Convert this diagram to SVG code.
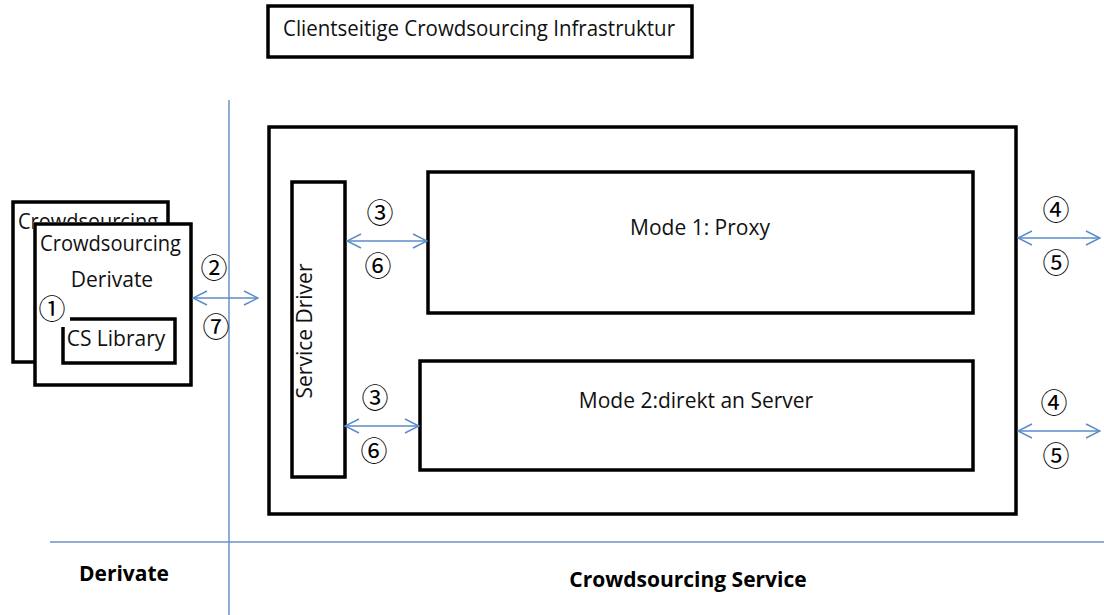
<svg xmlns="http://www.w3.org/2000/svg" width="1104" height="615" viewBox="0 0 1104 615">
  <style>
    .box { fill: #fff; stroke: #000; stroke-width: 3.5; }
    .lbl { font-family: "Open Sans", "Liberation Sans", sans-serif; font-size: 21px; fill: #111; }
    .bold { font-family: "Open Sans", "Liberation Sans", sans-serif; font-size: 21px; font-weight: bold; fill: #000; }
    .num { font-family: "Noto Sans CJK JP", "DejaVu Sans", sans-serif; font-size: 27px; fill: #000; text-anchor: middle; }
    .axis { stroke: #6a93c8; stroke-width: 1.5; fill: none; }
    .conn { stroke: #5b8cc8; stroke-width: 1.5; fill: none; marker-start: url(#head); marker-end: url(#head); }
  </style>
  <defs>
    <marker id="head" viewBox="0 0 16 16" refX="15" refY="8" markerWidth="16" markerHeight="16" markerUnits="userSpaceOnUse" orient="auto-start-reverse">
      <path d="M1,1 L15,8 L1,15" fill="none" stroke="#5b8cc8" stroke-width="1.5"/>
    </marker>
    <clipPath id="back-visible">
      <rect x="0" y="190" width="33" height="180"/>
      <rect x="0" y="190" width="200" height="32"/>
    </clipPath>
  </defs>

  <rect width="1104" height="615" fill="#fff"/>

  <!-- partition lines -->
  <g id="partition">
    <line class="axis" x1="229" y1="100" x2="229" y2="615"/>
    <line class="axis" x1="50" y1="542" x2="1104" y2="542"/>
  </g>

  <g id="title">
    <rect class="box" x="268" y="6" width="424" height="51"/>
    <text class="lbl" x="479" y="36" text-anchor="middle" font-size="20" textLength="392" lengthAdjust="spacingAndGlyphs">Clientseitige Crowdsourcing Infrastruktur</text>
  </g>

  <g id="derivate-back">
    <rect class="box" x="13" y="202" width="155" height="160"/>
    <text class="lbl" x="18" y="229" textLength="140" lengthAdjust="spacingAndGlyphs" clip-path="url(#back-visible)">Crowdsourcing</text>
  </g>

  <g id="derivate-front">
    <rect class="box" x="35" y="224" width="156" height="161"/>
    <text class="lbl" x="40" y="251" textLength="141" lengthAdjust="spacingAndGlyphs">Crowdsourcing</text>
    <text class="lbl" x="112" y="287" text-anchor="middle" font-size="20">Derivate</text>
    <text class="num" x="52" y="319">①</text>
  </g>

  <g id="cs-library">
    <path d="M70,319 L175,319 L175,363 L63,363 L63,327" fill="none" stroke="#000" stroke-width="3.5"/>
    <text class="lbl" x="116" y="346" text-anchor="middle" font-size="20">CS Library</text>
  </g>

  <g id="cs-service">
    <rect class="box" x="269" y="127" width="747" height="387"/>
  </g>

  <g id="service-driver">
    <rect class="box" x="292" y="182" width="53" height="295"/>
    <text class="lbl" transform="translate(312,331) rotate(-90)" text-anchor="middle">Service Driver</text>
  </g>

  <g id="mode1">
    <rect class="box" x="428" y="172" width="545" height="141"/>
    <text class="lbl" x="700" y="235" text-anchor="middle">Mode 1: Proxy</text>
  </g>

  <g id="mode2">
    <rect class="box" x="420" y="361" width="553" height="109"/>
    <text class="lbl" x="696" y="408" text-anchor="middle">Mode 2:direkt an Server</text>
  </g>

  <g id="connectors">
    <line class="conn" x1="193" y1="298" x2="258" y2="298"/>
    <line class="conn" x1="347" y1="241" x2="427" y2="241"/>
    <line class="conn" x1="345" y1="426" x2="419" y2="426"/>
    <line class="conn" x1="1018" y1="238" x2="1100" y2="238"/>
    <line class="conn" x1="1018" y1="431" x2="1100" y2="431"/>
  </g>

  <g id="step-numbers">
    <text class="num" x="214" y="278">②</text>
    <text class="num" x="216" y="337">⑦</text>
    <text class="num" x="380" y="223">③</text>
    <text class="num" x="378" y="276">⑥</text>
    <text class="num" x="375" y="408">③</text>
    <text class="num" x="374" y="461">⑥</text>
    <text class="num" x="1056" y="220">④</text>
    <text class="num" x="1056" y="273">⑤</text>
    <text class="num" x="1054" y="413">④</text>
    <text class="num" x="1056" y="466">⑤</text>
  </g>

  <g id="zone-labels">
    <text class="bold" x="124" y="581" text-anchor="middle">Derivate</text>
    <text class="bold" x="688" y="587" text-anchor="middle">Crowdsourcing Service</text>
  </g>
</svg>
